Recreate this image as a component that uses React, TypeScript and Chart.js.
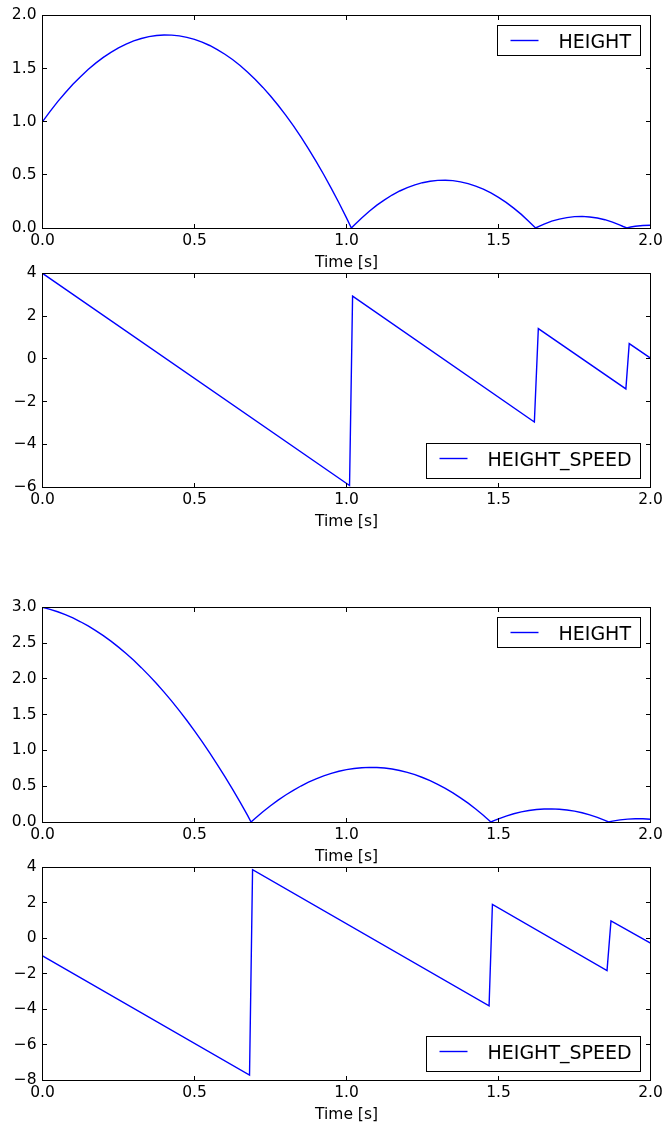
import React, { useEffect, useRef } from "react";
import { Chart, registerables } from "chart.js";

Chart.register(...registerables);

// ---------- data ----------
const xTicks = [0, 0.5, 1.0, 1.5, 2.0];
const xAxisLabel = "Time [s]";
const heightLabel = "HEIGHT";
const speedLabel = "HEIGHT_SPEED";

// first simulation (starts at 1.0 m, +4 m/s)
const heightTimeA = [
  0, 0.025, 0.05, 0.075, 0.1, 0.125, 0.15, 0.175, 0.2, 0.225, 0.25, 0.275, 0.3, 0.325, 0.35, 0.375, 0.4, 0.425, 0.45, 0.475, 0.5,
  0.525, 0.55, 0.575, 0.6, 0.625, 0.65, 0.675, 0.7, 0.725, 0.75, 0.775, 0.8, 0.825, 0.85, 0.875, 0.9, 0.925, 0.95, 0.975, 1.0, 1.016,
  1.025, 1.05, 1.075, 1.1, 1.125, 1.15, 1.175, 1.2, 1.225, 1.25, 1.275, 1.3, 1.325, 1.35, 1.375, 1.4, 1.425, 1.45, 1.475, 1.5,
  1.525, 1.55, 1.575, 1.6, 1.622,
  1.635, 1.65, 1.675, 1.7, 1.725, 1.75, 1.775, 1.8, 1.825, 1.85, 1.875, 1.9, 1.91, 1.922,
  1.935, 1.95, 1.975, 2.0,
];
const heightValuesA = [
  1.0, 1.097, 1.188, 1.272, 1.351, 1.423, 1.49, 1.55, 1.604, 1.652, 1.693, 1.729, 1.759, 1.782, 1.799, 1.81, 1.815, 1.814, 1.807, 1.793, 1.774,
  1.748, 1.716, 1.678, 1.634, 1.584, 1.528, 1.465, 1.397, 1.322, 1.241, 1.154, 1.061, 0.962, 0.856, 0.745, 0.627, 0.503, 0.373, 0.237, 0.095, 0.0,
  0.026, 0.095, 0.158, 0.215, 0.265, 0.31, 0.348, 0.38, 0.406, 0.426, 0.44, 0.448, 0.449, 0.445, 0.434, 0.417, 0.394, 0.365, 0.33, 0.288,
  0.241, 0.187, 0.128, 0.062, 0.0,
  0.018, 0.037, 0.064, 0.084, 0.098, 0.107, 0.109, 0.104, 0.094, 0.078, 0.055, 0.027, 0.014, 0.0,
  0.009, 0.016, 0.024, 0.026,
];
const speedTimeA = [0, 1.01, 1.02, 1.618, 1.631, 1.919, 1.93, 2.0];
const speedValuesA = [4.0, -5.93, 2.93, -2.96, 1.41, -1.41, 0.71, 0.03];
const yTicksHeightA = [0, 0.5, 1.0, 1.5, 2.0];
const yTicksSpeedA = [-6, -4, -2, 0, 2, 4];

// second simulation (starts at 3.0 m, -1 m/s)
const heightTimeB = [
  0, 0.025, 0.05, 0.075, 0.1, 0.125, 0.15, 0.175, 0.2, 0.225, 0.25, 0.275, 0.3, 0.325, 0.35, 0.375, 0.4, 0.425, 0.45, 0.475, 0.5,
  0.525, 0.55, 0.575, 0.6, 0.625, 0.65, 0.675, 0.686,
  0.7, 0.725, 0.75, 0.775, 0.8, 0.825, 0.85, 0.875, 0.9, 0.925, 0.95, 0.975, 1.0, 1.025, 1.05, 1.075, 1.1, 1.125, 1.15, 1.175, 1.2,
  1.225, 1.25, 1.275, 1.3, 1.325, 1.35, 1.375, 1.4, 1.425, 1.45, 1.46, 1.475,
  1.485, 1.5, 1.525, 1.55, 1.575, 1.6, 1.625, 1.65, 1.675, 1.7, 1.725, 1.75, 1.775, 1.8, 1.825, 1.85, 1.862,
  1.875, 1.9, 1.925, 1.95, 1.975, 2.0,
];
const heightValuesB = [
  3.0, 2.972, 2.938, 2.897, 2.851, 2.798, 2.74, 2.675, 2.604, 2.527, 2.443, 2.354, 2.259, 2.157, 2.049, 1.935, 1.815, 1.689, 1.557, 1.418, 1.274,
  1.123, 0.966, 0.803, 0.634, 0.459, 0.278, 0.09, 0.0,
  0.053, 0.143, 0.228, 0.306, 0.377, 0.443, 0.503, 0.556, 0.604, 0.645, 0.68, 0.709, 0.732, 0.748, 0.759, 0.763, 0.762, 0.754, 0.74, 0.72, 0.693,
  0.661, 0.622, 0.578, 0.527, 0.47, 0.407, 0.338, 0.263, 0.181, 0.094, 0.057, 0.0,
  0.019, 0.044, 0.083, 0.115, 0.141, 0.161, 0.175, 0.182, 0.184, 0.179, 0.168, 0.152, 0.129, 0.099, 0.064, 0.023, 0.0,
  0.012, 0.029, 0.04, 0.046, 0.045, 0.038,
];
const speedTimeB = [0, 0.681, 0.691, 1.469, 1.48, 1.857, 1.87, 2.0];
const speedValuesB = [-1.0, -7.72, 3.87, -3.81, 1.91, -1.83, 0.97, -0.28];
const yTicksHeightB = [0, 0.5, 1.0, 1.5, 2.0, 2.5, 3.0];
const yTicksSpeedB = [-8, -6, -4, -2, 0, 2, 4];

// ---------- styling ----------
const FONT_FAMILY = '"DejaVu Sans", sans-serif';
const TICK_FONT = { family: FONT_FAMILY, size: 15.5 };
const LEGEND_FONT = '19px "DejaVu Sans", sans-serif';
const LINE_COLOR = "#0000ff";
const PAD_TOP = 14;
const X_AXIS_H = 46;
const Y_AXIS_W = 42.5;

const fmt = (v: number, decimals: number) =>
  (decimals > 0 ? Number(v).toFixed(decimals) : String(Math.round(Number(v)))).replace("-", "\u2212");

const crisp = (v: number) => Math.round(v - 0.5) + 0.5;

const framePlugin = {
  id: "mplFrame",
  afterDraw(chart: any) {
    const { ctx, chartArea: a, scales } = chart;
    const xs = scales.x;
    const ys = scales.y;
    const L = crisp(a.left);
    const R = crisp(a.right);
    const T = crisp(a.top);
    const B = crisp(a.bottom);
    const tl = 4.5;
    ctx.save();
    ctx.strokeStyle = "#000";
    ctx.lineWidth = 1;
    ctx.beginPath();
    xs.ticks.forEach((t: any) => {
      const px = crisp(xs.getPixelForValue(t.value));
      ctx.moveTo(px, B);
      ctx.lineTo(px, B - tl);
      ctx.moveTo(px, T);
      ctx.lineTo(px, T + tl);
    });
    ys.ticks.forEach((t: any) => {
      const py = crisp(ys.getPixelForValue(t.value));
      ctx.moveTo(L, py);
      ctx.lineTo(L + tl, py);
      ctx.moveTo(R, py);
      ctx.lineTo(R - tl, py);
    });
    ctx.stroke();
    ctx.strokeRect(L, T, R - L, B - T);
    ctx.restore();
  },
};

const legendPlugin = {
  id: "mplLegend",
  afterDraw(chart: any, _args: any, opts: any) {
    const ds = chart.data.datasets[0];
    const { ctx, chartArea: a } = chart;
    ctx.save();
    ctx.font = LEGEND_FONT;
    const m = ctx.measureText(ds.label);
    const asc = m.actualBoundingBoxAscent;
    const desc = Math.max(0, m.actualBoundingBoxDescent);
    const padL = 13, lineLen = 28, gap = 20, padR = 9, padV = 8;
    const w = padL + lineLen + gap + m.width + padR;
    const h = Math.round(padV * 2 + asc + desc);
    const right = crisp(a.right - 10);
    const left = crisp(a.right - 10 - w);
    const top = opts.corner === "upper" ? crisp(a.top + 10) : crisp(a.bottom - 9 - h);
    ctx.fillStyle = "#fff";
    ctx.fillRect(left, top, right - left, h);
    ctx.strokeStyle = "#000";
    ctx.lineWidth = 1;
    ctx.strokeRect(left, top, right - left, h);
    const ly = top + padV + asc / 2;
    ctx.strokeStyle = ds.borderColor;
    ctx.lineWidth = ds.borderWidth;
    ctx.beginPath();
    ctx.moveTo(left + padL, ly);
    ctx.lineTo(left + padL + lineLen, ly);
    ctx.stroke();
    ctx.fillStyle = "#000";
    ctx.textBaseline = "alphabetic";
    ctx.textAlign = "left";
    ctx.fillText(ds.label, left + padL + lineLen + gap, top + padV + asc);
    ctx.restore();
  },
};

type PanelProps = {
  top: number;
  plotHeight: number;
  times: number[];
  values: number[];
  label: string;
  yTicks: number[];
  decimals: number;
  corner: "upper" | "lower";
};

function Panel({ top, plotHeight, times, values, label, yTicks, decimals, corner }: PanelProps) {
  const ref = useRef<HTMLCanvasElement>(null);
  const canvasH = PAD_TOP + plotHeight + X_AXIS_H;

  useEffect(() => {
    if (!ref.current) return;
    const points = times.map((t, i) => ({ x: t, y: values[i] }));
    const chart = new Chart(ref.current, {
      type: "line",
      data: {
        datasets: [
          {
            label,
            data: points,
            borderColor: LINE_COLOR,
            borderWidth: 1.4,
            pointRadius: 0,
            fill: false,
            tension: 0,
          },
        ],
      },
      options: {
        responsive: false,
        animation: false,
        layout: { padding: { top: PAD_TOP, right: 667 - 650.5, left: 0, bottom: 0 } },
        plugins: {
          legend: { display: false },
          tooltip: { enabled: false },
          // @ts-ignore
          mplLegend: { corner },
        },
        scales: {
          x: {
            type: "linear",
            min: xTicks[0],
            max: xTicks[xTicks.length - 1],
            grid: { display: false, drawTicks: false },
            border: { display: false },
            afterBuildTicks: (s: any) => {
              s.ticks = xTicks.map((v) => ({ value: v }));
            },
            afterFit: (s: any) => {
              s.height = X_AXIS_H;
            },
            ticks: {
              padding: 4,
              color: "#000",
              font: TICK_FONT,
              maxRotation: 0,
              autoSkip: false,
              callback: (v: any) => fmt(v, 1),
            },
            title: {
              display: true,
              text: xAxisLabel,
              color: "#000",
              font: TICK_FONT,
              padding: { top: 0, bottom: 2 },
            },
          },
          y: {
            type: "linear",
            min: yTicks[0],
            max: yTicks[yTicks.length - 1],
            grid: { display: false, drawTicks: false },
            border: { display: false },
            afterBuildTicks: (s: any) => {
              s.ticks = yTicks.map((v) => ({ value: v }));
            },
            afterFit: (s: any) => {
              s.width = Y_AXIS_W;
            },
            ticks: {
              padding: 6,
              color: "#000",
              font: TICK_FONT,
              autoSkip: false,
              callback: (v: any) => fmt(v, decimals),
            },
          },
        },
      },
      plugins: [framePlugin, legendPlugin],
    } as any);
    return () => chart.destroy();
  }, []);

  return (
    <canvas
      ref={ref}
      width={667}
      height={canvasH}
      style={{ position: "absolute", left: 0, top, width: 667, height: canvasH, display: "block" }}
    />
  );
}

export default function App() {
  return (
    <div style={{ position: "absolute", left: 0, top: 0, width: 667, height: 1129, background: "#fff" }}>
      <Panel top={0} plotHeight={214} times={heightTimeA} values={heightValuesA} label={heightLabel} yTicks={yTicksHeightA} decimals={1} corner="upper" />
      <Panel top={258} plotHeight={215} times={speedTimeA} values={speedValuesA} label={speedLabel} yTicks={yTicksSpeedA} decimals={0} corner="lower" />
      <Panel top={592} plotHeight={216} times={heightTimeB} values={heightValuesB} label={heightLabel} yTicks={yTicksHeightB} decimals={1} corner="upper" />
      <Panel top={852} plotHeight={214} times={speedTimeB} values={speedValuesB} label={speedLabel} yTicks={yTicksSpeedB} decimals={0} corner="lower" />
    </div>
  );
}
